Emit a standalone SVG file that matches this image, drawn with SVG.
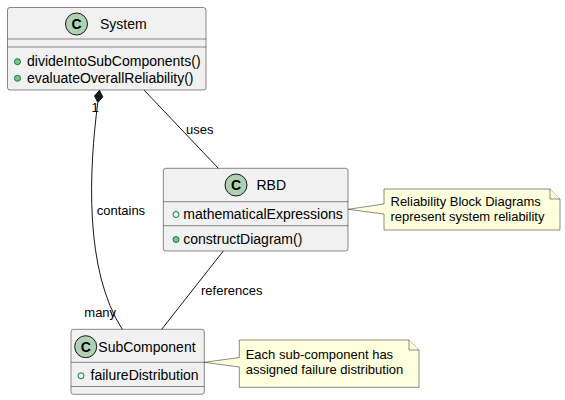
<svg xmlns="http://www.w3.org/2000/svg" width="565" height="400" viewBox="0 0 565 400">
<style>
text{font-family:"Liberation Sans",Arial,sans-serif;fill:#000000}
.box{fill:#F1F1F1;stroke:#181818;stroke-width:0.5}
.sep{stroke:#181818;stroke-width:0.5}
.hc{fill:#ADD1B2;stroke:#181818;stroke-width:1}
.hl{font-size:14px;font-weight:bold;text-anchor:middle}
.nm{font-size:14px}
.mb{font-size:14px}
.pm{fill:#84BE84;stroke:#038048;stroke-width:1}
.pf{fill:none;stroke:#038048;stroke-width:1}
.note{fill:#FEFFDD;stroke:#181818;stroke-width:0.5}
.nt{font-size:13px}
.edge{fill:none;stroke:#181818;stroke-width:1}
.el{font-size:13px}
</style>
<g id="System">
<rect class="box" x="7.5" y="7.5" width="198.5" height="82.5" rx="2.5"/>
<circle class="hc" cx="76.5" cy="24" r="11"/>
<text class="hl" x="76.5" y="29">C</text>
<text class="nm" x="100" y="29.3">System</text>
<line class="sep" x1="7.5" y1="39" x2="206" y2="39"/>
<line class="sep" x1="7.5" y1="47" x2="206" y2="47"/>
<circle class="pm" cx="17.5" cy="61.7" r="3"/>
<text class="mb" x="27" y="66">divideIntoSubComponents()</text>
<circle class="pm" cx="17.5" cy="78.3" r="3"/>
<text class="mb" x="27" y="82.5">evaluateOverallReliability()</text>
</g>
<g id="RBD">
<rect class="box" x="163.3" y="168.3" width="184.7" height="82.7" rx="2.5"/>
<circle class="hc" cx="236" cy="185" r="11"/>
<text class="hl" x="236" y="190">C</text>
<text class="nm" x="256.5" y="190">RBD</text>
<line class="sep" x1="163.3" y1="201.7" x2="348" y2="201.7"/>
<circle class="pf" cx="176" cy="214.5" r="3"/>
<text class="mb" x="183.3" y="219">mathematicalExpressions</text>
<line class="sep" x1="163.3" y1="225.7" x2="348" y2="225.7"/>
<circle class="pm" cx="176" cy="239.5" r="3"/>
<text class="mb" x="183.3" y="244">constructDiagram()</text>
</g>
<g id="SubComponent">
<rect class="box" x="71" y="329.3" width="133.3" height="65" rx="2.5"/>
<circle class="hc" cx="85.7" cy="346.7" r="11"/>
<text class="hl" x="85.7" y="351.7">C</text>
<text class="nm" x="98.3" y="351.7">SubComponent</text>
<line class="sep" x1="71" y1="362.3" x2="204.3" y2="362.3"/>
<circle class="pf" cx="81" cy="375.8" r="3"/>
<text class="mb" x="90.5" y="380.3">failureDistribution</text>
<line class="sep" x1="71" y1="386.5" x2="204.3" y2="386.5"/>
</g>
<g id="note1">
<path class="note" d="M384,189 L550,189 L560,199 L560,230 L384,230 L384,214 L348,209.3 L384,204 Z"/>
<path class="note" d="M550,189 L550,199 L560,199"/>
<text class="nt" x="390.5" y="205.5">Reliability Block Diagrams</text>
<text class="nt" x="390.5" y="220.7">represent system reliability</text>
</g>
<g id="note2">
<path class="note" d="M239.3,340 L409,340 L419,350 L419,387.3 L239.3,387.3 L239.3,367 L204.3,362.3 L239.3,357.5 Z"/>
<path class="note" d="M409,340 L409,350 L419,350"/>
<text class="nt" x="245.7" y="359.3">Each sub-component has</text>
<text class="nt" x="245.7" y="374.3">assigned failure distribution</text>
</g>
<g id="connectors">
<path class="edge" d="M97.8,102.5 C89,170 84,270 122.3,329.3"/>
<polygon points="99.5,90.3 102.8,96.9 97.8,102.5 94.5,95.9" fill="#181818" stroke="#181818" stroke-width="1"/>
<text class="el" x="91.5" y="112">1</text>
<text class="el" x="84.3" y="317.3">many</text>
<text class="el" x="96.7" y="215">contains</text>
<path class="edge" d="M144,90 L218.3,168.3"/>
<text class="el" x="186" y="133.5">uses</text>
<path class="edge" d="M223.3,251 L161.7,329.3"/>
<text class="el" x="201" y="294.7">references</text>
</g>
</svg>
